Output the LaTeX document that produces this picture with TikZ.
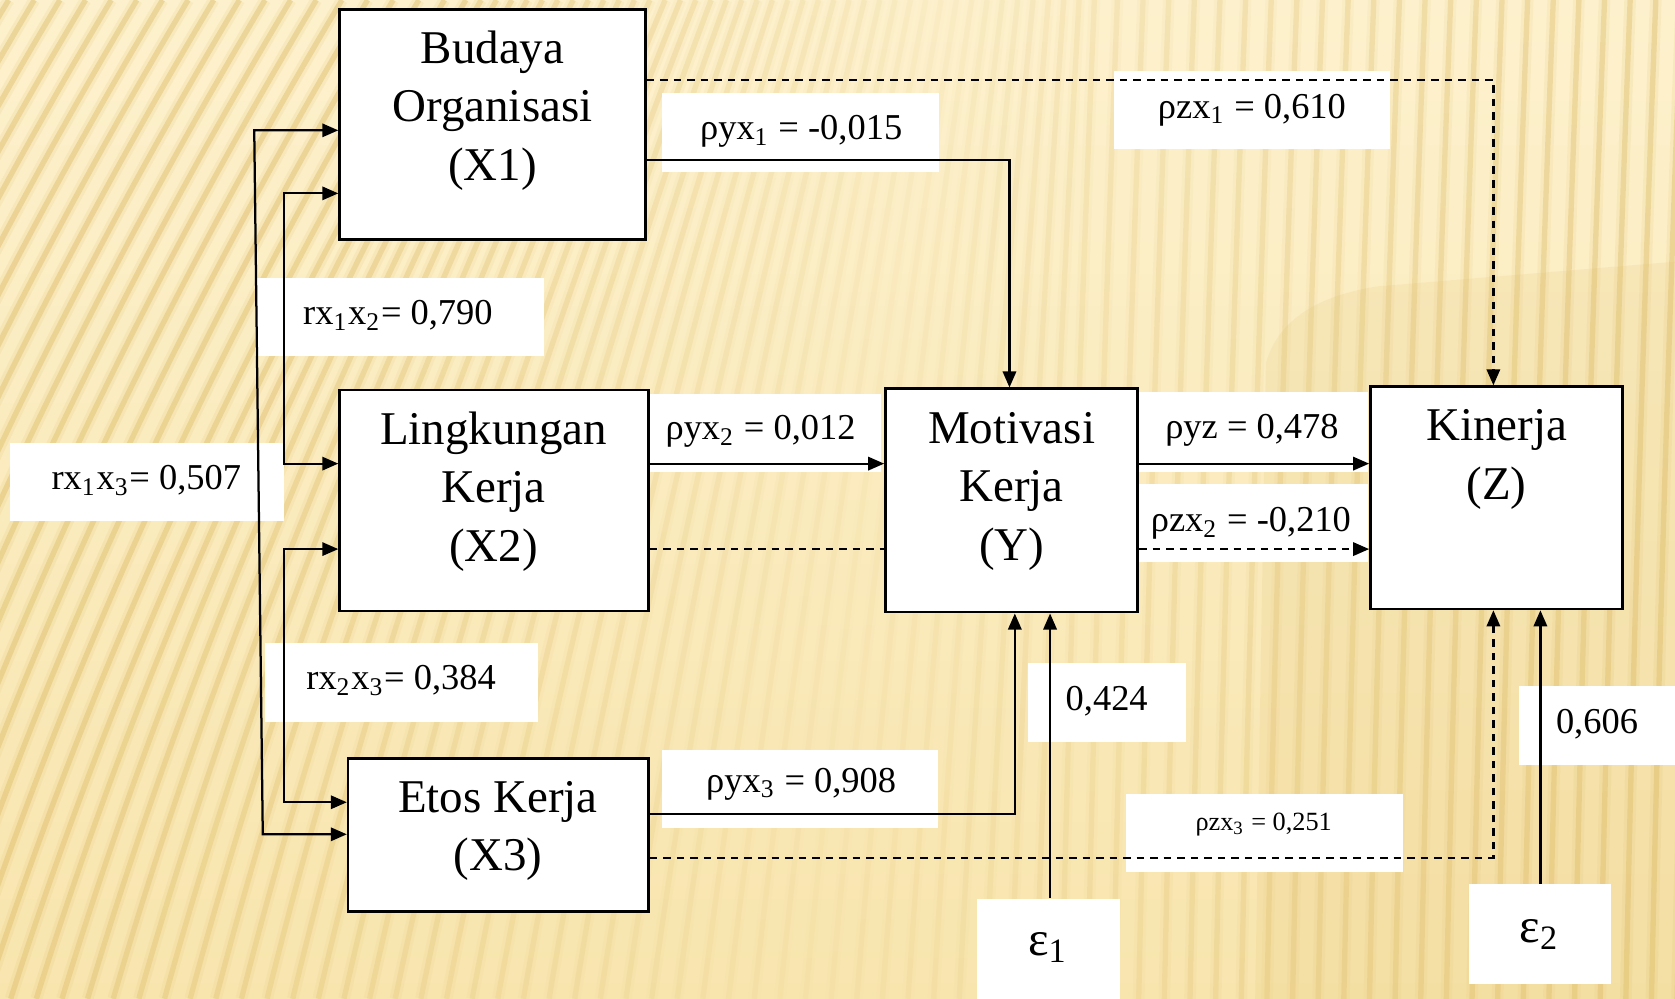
\documentclass[tikz,border=0pt]{standalone}
\usepackage{fontspec}
\setmainfont{Liberation Serif}
\usetikzlibrary{arrows.meta,calc}

\definecolor{bgtop}{HTML}{FDF1CD}
\definecolor{bgbottom}{HTML}{F8E5AE}
\definecolor{stripe}{HTML}{DDBB66}

\tikzset{
  box/.style={draw=black, line width=0.7pt, fill=white, inner sep=0pt},
  boxtext/.style={align=center, inner sep=0pt, yshift=-0.03cm, font=\fontsize{12.5}{15.6}\selectfont},
  tag/.style={fill=white, inner sep=0pt},
  tagtext/.style={inner sep=0pt, yshift=-0.03cm, font=\fontsize{9.7}{11}\selectfont},
  smalltext/.style={inner sep=0pt, yshift=-0.02cm, font=\fontsize{7}{8}\selectfont},
  epstext/.style={inner sep=0pt, yshift=-0.03cm, font=\fontsize{13}{15}\selectfont},
  tip/.tip={Triangle[length=1.5mm,width=1.25mm]},
  conn/.style={line width=0.6pt, -tip},
  corr/.style={line width=0.6pt, tip-tip},
  dashline/.style={line width=0.6pt, dash pattern=on 2pt off 1.6pt},
}

\begin{document}
\begin{tikzpicture}[x=0.01cm, y=-0.01cm]
\useasboundingbox (0,0) rectangle (1568,935);

% ---------- striped background ----------
\begin{scope}
  \clip (0,0) rectangle (1568,935);
  \shade[top color=bgtop, bottom color=bgbottom] (0,0) rectangle (1568,935);
  \fill[stripe, opacity=0.14] (1568,245) -- (1290,268)
       .. controls (1225,278) and (1195,305) .. (1185,340) -- (1175,935) -- (1568,935) -- cycle;
  \foreach \u in {-470,-446,...,1600} {
    \pgfmathsetmacro\L{max(0.03, 0.46 - 0.43*max(\u,0)/1000)}
    \pgfmathsetmacro\xa{\u + 0.2333*\L*935}
    \pgfmathsetmacro\xb{\u + 0.5667*\L*935}
    \pgfmathsetmacro\xt{\u + \L*935}
    \pgfmathsetmacro\op{min(0.42, 0.06 + 0.34*abs(\u-760)/760)}
    \draw[stripe, line width=0.11cm, opacity=\op/3]
      (\u,935) .. controls (\xa,623) and (\xb,312) .. (\xt,0);
    \draw[stripe, line width=0.05cm, opacity=\op]
      (\u,935) .. controls (\xa,623) and (\xb,312) .. (\xt,0);
  }
\end{scope}

% ---------- white label plates ----------
\node[tag, minimum width=2.59cm, minimum height=0.74cm] (t1)  at (749.5,124)  {};
\node[tag, minimum width=2.58cm, minimum height=0.73cm] (t2)  at (1172,103)   {};
\node[tag, minimum width=2.17cm, minimum height=0.73cm] (t3)  at (716.5,405.5) {};
\node[tag, minimum width=2.16cm, minimum height=0.75cm] (t4)  at (1173,404.5) {};
\node[tag, minimum width=2.16cm, minimum height=0.73cm] (t5)  at (1173,489.5) {};
\node[tag, minimum width=2.58cm, minimum height=0.73cm] (t6)  at (749,738.5)  {};
\node[tag, minimum width=2.59cm, minimum height=0.73cm] (t7)  at (1183.5,779.5) {};
\node[tag, minimum width=1.48cm, minimum height=0.74cm] (t8)  at (1036,658)   {};
\node[tag, minimum width=1.46cm, minimum height=0.74cm] (t9)  at (1495,679)   {};
\node[tag, minimum width=2.70cm, minimum height=0.73cm] (t10) at (374,296.5)  {};
\node[tag, minimum width=2.57cm, minimum height=0.73cm] (t11) at (137.5,451.5) {};
\node[tag, minimum width=2.56cm, minimum height=0.74cm] (t12) at (376,639)    {};

% ---------- variable boxes ----------
\node[box, minimum width=2.86cm, minimum height=2.15cm] (x1) at (461,116.5) {};
\node[box, minimum width=2.89cm, minimum height=2.07cm] (x2) at (462.5,468.5) {};
\node[box, minimum width=2.81cm, minimum height=1.43cm] (x3) at (466.5,781.5) {};
\node[box, minimum width=2.36cm, minimum height=2.09cm] (y)  at (947,468.5) {};
\node[box, minimum width=2.36cm, minimum height=2.08cm] (z)  at (1401,466) {};
\node[tag, minimum width=1.33cm, minimum height=0.95cm] (e1) at (981.5,889) {};
\node[tag, minimum width=1.33cm, minimum height=0.93cm] (e2) at (1441.5,874.5) {};

\node[boxtext] (x1t) at (461,100.5) {Budaya\\Organisasi\\(X1)};
\node[boxtext] (x2t) at (462,457)   {Lingkungan\\Kerja\\(X2)};
\node[boxtext] (x3t) at (466,775)   {Etos Kerja\\(X3)};
\node[boxtext] (yt)  at (947,457)   {Motivasi\\Kerja\\(Y)};
\node[boxtext] (zt)  at (1401,427)  {Kinerja\\(Z)};
\node[epstext] (e1t) at (981,884)   {ε\textsubscript{1}};
\node[epstext] (e2t) at (1441,872)  {ε\textsubscript{2}};

% ---------- bend points ----------
\coordinate (b1) at (945,150);
\coordinate (b2) at (1398,75);
\coordinate (b3) at (950,762);
\coordinate (b4) at (1398,803);
\coordinate (yb) at (983,842);
\coordinate (zb) at (1442,828);
\coordinate (o1) at (238,122);
\coordinate (o2) at (246,781);
\coordinate (i1) at (266,181);
\coordinate (i2) at (266,434);
\coordinate (i3) at (266,514);
\coordinate (i4) at (266,751);
\coordinate (h1) at (0,434);
\coordinate (h2) at (0,514);

% ---------- direct paths ----------
\draw[conn] (x1.east |- b1) -- (b1) -- (y.north -| b1);
\draw[conn, dashline] (x1.east |- b2) -- (b2) -- (z.north -| b2);
\draw[conn] (x2.east |- h1) -- (y.west |- h1);
\draw[dashline] (x2.east |- h2) -- (y.west |- h2);
\draw[conn] (y.east |- h1) -- (z.west |- h1);
\draw[conn, dashline] (y.east |- h2) -- (z.west |- h2);
\draw[conn] (x3.east |- b3) -- (b3) -- (y.south -| b3);
\draw[conn, dashline] (x3.east |- b4) -- (b4) -- (z.south -| b4);
\draw[conn] (e1.north -| yb) -- (y.south -| yb);
\draw[conn] (e2.north -| zb) -- (z.south -| zb);

% ---------- correlations ----------
\draw[corr] (x1.west |- o1) -- (o1) -- (o2) -- (x3.west |- o2);
\draw[corr] (x1.west |- i1) -- (i1) -- (i2) -- (x2.west |- i2);
\draw[corr] (x2.west |- i3) -- (i3) -- (i4) -- (x3.west |- i4);

% ---------- coefficients ----------
\node[tagtext] (l1)  at (750,120)  {ρyx\textsubscript{1} = -0,015};
\node[tagtext] (l2)  at (1172,100) {ρzx\textsubscript{1} = 0,610};
\node[tagtext] (l3)  at (712,401)  {ρyx\textsubscript{2} = 0,012};
\node[tagtext] (l4)  at (1172,400) {ρyz = 0,478};
\node[tagtext] (l5)  at (1171,487) {ρzx\textsubscript{2} = -0,210};
\node[tagtext] (l6)  at (750,731)  {ρyx\textsubscript{3} = 0,908};
\node[smalltext] (l7) at (1183,770) {ρzx\textsubscript{3} = 0,251};
\node[tagtext] (l8)  at (1036,653) {0,424};
\node[tagtext] (l9)  at (1495,675) {0,606};
\node[tagtext] (l10) at (372.5,292) {rx\textsubscript{1}x\textsubscript{2}= 0,790};
\node[tagtext] (l11) at (137,447)  {rx\textsubscript{1}x\textsubscript{3}= 0,507};
\node[tagtext] (l12) at (375.5,634) {rx\textsubscript{2}x\textsubscript{3}= 0,384};
\end{tikzpicture}
\end{document}
